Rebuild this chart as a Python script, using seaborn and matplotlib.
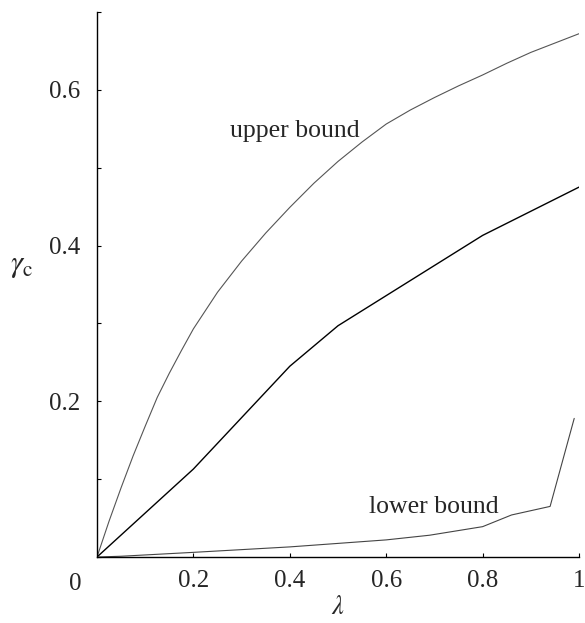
import matplotlib
matplotlib.use("Agg")
import matplotlib.pyplot as plt
import seaborn as sns
import pandas as pd
from matplotlib.ticker import MultipleLocator, FixedLocator

# data
lam_upper = [0, 0.025, 0.05, 0.075, 0.1, 0.125, 0.15, 0.175, 0.2, 0.25, 0.3, 0.35,
             0.4, 0.45, 0.5, 0.55, 0.6, 0.65, 0.7, 0.75, 0.8, 0.85, 0.9, 0.95, 1.0]
gamma_upper = [0, 0.046, 0.089, 0.130, 0.168, 0.205, 0.236, 0.265, 0.293, 0.340, 0.380, 0.416,
               0.449, 0.480, 0.508, 0.533, 0.556, 0.574, 0.590, 0.605, 0.619, 0.634, 0.648, 0.660, 0.672]

lam_mid = [0, 0.2, 0.4, 0.5, 0.8, 1.0]
gamma_mid = [0, 0.113, 0.245, 0.297, 0.413, 0.475]

lam_lower = [0, 0.05, 0.2, 0.4, 0.6, 0.69, 0.8, 0.86, 0.94, 0.99]
gamma_lower = [0, 0.001, 0.006, 0.013, 0.022, 0.028, 0.039, 0.054, 0.065, 0.178]

x_ticks = [0.2, 0.4, 0.6, 0.8, 1.0]
x_tick_labels = ["0.2", "0.4", "0.6", "0.8", "1"]
y_ticks = [0.2, 0.4, 0.6]
y_tick_labels = ["0.2", "0.4", "0.6"]

sns.set_style("ticks")
plt.rcParams["font.family"] = ["Liberation Serif", "DejaVu Serif"]
plt.rcParams["mathtext.fontset"] = "stix"

fig = plt.figure(figsize=(5.85, 6.23), dpi=100)
ax = fig.add_axes([0.1658, 0.1059, 0.824, 0.875])

up = pd.DataFrame({"lam": lam_upper, "gamma": gamma_upper})
mid = pd.DataFrame({"lam": lam_mid, "gamma": gamma_mid})
low = pd.DataFrame({"lam": lam_lower, "gamma": gamma_lower})

sns.lineplot(data=up, x="lam", y="gamma", ax=ax, color="#555555", lw=0.8)
sns.lineplot(data=mid, x="lam", y="gamma", ax=ax, color="black", lw=1.0)
sns.lineplot(data=low, x="lam", y="gamma", ax=ax, color="#444444", lw=0.8)

ax.set_xlim(0, 1)
ax.set_ylim(0, 0.7)
sns.despine(ax=ax)
for s in ["left", "bottom"]:
    ax.spines[s].set_linewidth(1.0)
    ax.spines[s].set_color("black")

ax.xaxis.set_major_locator(FixedLocator(x_ticks))
ax.set_xticklabels(x_tick_labels)
ax.yaxis.set_major_locator(FixedLocator(y_ticks))
ax.set_yticklabels(y_tick_labels)
ax.yaxis.set_minor_locator(MultipleLocator(0.1))
ax.tick_params(which="both", direction="in", length=3, width=0.8, labelsize=18, color="black")
ax.tick_params(axis="x", pad=9)
ax.tick_params(axis="y", pad=12)

ax.set_xlabel("")
ax.set_ylabel("")
ax.text(-0.045, -0.03, "0", transform=ax.transAxes, fontsize=18, ha="center", va="top")
fig.text(338 / 585, 1 - 607 / 623, r"$\lambda$", fontsize=19, ha="center", va="center")
fig.text(22 / 585, 1 - 265 / 623, r"$\gamma_\mathrm{c}$", fontsize=22, ha="center", va="center")

ax.text(0.411, 0.547, "upper bound", fontsize=18.5, ha="center", va="center")
ax.text(0.699, 0.064, "lower bound", fontsize=18.5, ha="center", va="center")

fig.savefig("out.png", dpi=100)
